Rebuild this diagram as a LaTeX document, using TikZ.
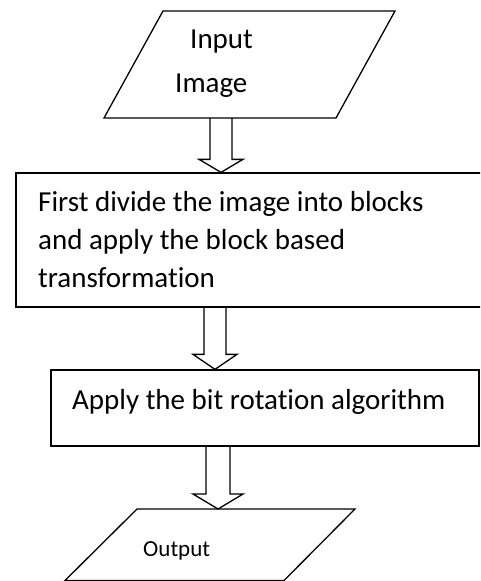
\documentclass[tikz,border=0pt]{standalone}
\usepackage{fontspec}
\setmainfont{Carlito}[Ligatures=NoCommon]
\usetikzlibrary{calc}
\newcommand\hollowarrow[5]{%
  \draw[conn] let \p1=#1, \p2=#2 in
    (\x1-#3,\y1) -- (\x1-#3,\y2+#5) -- (\x1-#4,\y2+#5) -- (\x1,\y2)
    -- (\x1+#4,\y2+#5) -- (\x1+#3,\y2+#5) -- (\x1+#3,\y1);}
\begin{document}
\begin{tikzpicture}[x=1pt,y=-1pt,
  shape line/.style={draw=black, line width=1.3pt, line join=miter},
  boxnode/.style={draw=black, line width=1.3pt, inner sep=0pt},
  conn/.style={draw=black, line width=1.3pt, line join=miter},
  txt/.style={inner sep=0pt, anchor=base west, font=\fontsize{29}{34}\selectfont},
  smalltxt/.style={inner sep=0pt, anchor=base west, font=\fontsize{23}{28}\selectfont}]
\useasboundingbox (0,0) rectangle (480,581);
\clip (0,0) rectangle (480,581);
% input parallelogram
\coordinate (in1) at (163,11);
\coordinate (in2) at (395,11);
\coordinate (in3) at (336,118);
\coordinate (in4) at (104,118);
\draw[shape line] (in1) -- (in2) -- (in3) -- (in4) -- cycle;
\node[txt] (inA) at (190,48) {Input};
\node[txt] (inB) at (175,92) {Image};
% block 1
\node[boxnode, minimum width=469pt, minimum height=134pt] (r1) at (250.5,240) {};
\node[txt] (r1a) at (38,211) {First divide the image into blocks};
\node[txt] (r1b) at (38,249) {and apply the block based};
\node[txt] (r1c) at (38,287) {transformation};
% block 2
\node[boxnode, minimum width=428pt, minimum height=76pt] (r2) at (265,408) {};
\node[txt] (r2a) at (72,409) {Apply the bit rotation algorithm};
% output parallelogram
\coordinate (out1) at (137,509);
\coordinate (out2) at (355,509);
\coordinate (out3) at (284,580.5);
\coordinate (out4) at (65,580.5);
\draw[shape line] (out1) -- (out2) -- (out3) -- (out4) -- cycle;
\node[smalltxt] (outA) at (143,556) {Output};
% arrows
\coordinate (a1s) at (221,118);
\coordinate (a2s) at (215,307);
\coordinate (a3s) at (218,446);
\hollowarrow{(a1s)}{(a1s |- r1.north)}{11pt}{22pt}{13pt}
\hollowarrow{(a2s)}{(a2s |- r2.north)}{11pt}{22pt}{15pt}
\hollowarrow{(a3s)}{(a3s |- out1)}{12pt}{25pt}{15pt}
\end{tikzpicture}
\end{document}
